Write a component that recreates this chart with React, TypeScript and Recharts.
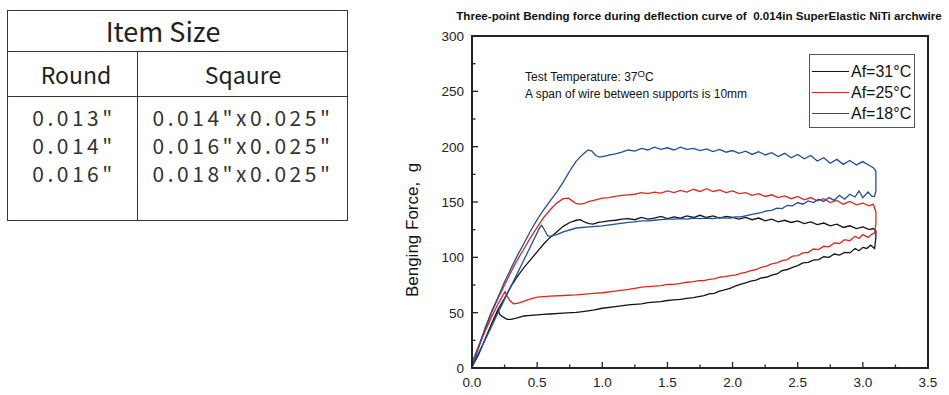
import React from 'react';
import { LineChart, Line, XAxis, YAxis, ReferenceArea, Legend } from 'recharts';

// ---- data (deflection mm, force g) ----
const xTicks = [0, 0.25, 0.5, 0.75, 1, 1.25, 1.5, 1.75, 2, 2.25, 2.5, 2.75, 3, 3.25, 3.5];
const yTicks = [0, 25, 50, 75, 100, 125, 150, 175, 200, 225, 250, 275, 300];

const seriesNames = ['Af=31°C', 'Af=25°C', 'Af=18°C'];
const seriesColors = ['#141414', '#e2261c', '#1f4e9e'];

const af31: [number, number][] = [
  [0, 1], [0.05, 12], [0.1, 26], [0.15, 40], [0.2, 53], [0.25, 63], [0.3, 74], [0.35, 83], [0.4, 91], [0.45, 98],
  [0.5, 105], [0.55, 112], [0.6, 118], [0.65, 123], [0.7, 128], [0.75, 131.5], [0.8, 133.5], [0.83, 134], [0.87, 131.5],
  [0.9, 130.5], [0.93, 130], [0.97, 131.5], [1.0, 132], [1.05, 133], [1.1, 133.5], [1.15, 134.5], [1.2, 135],
  [1.25, 134], [1.3, 136], [1.35, 134.5], [1.4, 135.5], [1.45, 137], [1.5, 135], [1.55, 136.5], [1.6, 135.5],
  [1.65, 137.5], [1.7, 136], [1.75, 138], [1.8, 136], [1.85, 137.5], [1.9, 135.5], [1.95, 137], [2.0, 136],
  [2.05, 134.5], [2.1, 136], [2.15, 134], [2.2, 135.5], [2.25, 133], [2.3, 134.5], [2.35, 132], [2.4, 133.5],
  [2.45, 131.5], [2.5, 133], [2.55, 130.5], [2.6, 132], [2.65, 129.5], [2.7, 131], [2.75, 128.5], [2.8, 130],
  [2.85, 127], [2.9, 128.5], [2.95, 126], [3.0, 127.5], [3.05, 125], [3.08, 126], [3.1, 124],
  [3.1, 118], [3.09, 108], [3.06, 111], [3.03, 108], [3.0, 109], [2.97, 106], [2.94, 108], [2.9, 104], [2.86, 104.5],
  [2.82, 102], [2.78, 103], [2.74, 100], [2.7, 100.5], [2.66, 98], [2.62, 97.5], [2.58, 95.5], [2.54, 95], [2.5, 92.5],
  [2.46, 91], [2.42, 89], [2.38, 88], [2.34, 85], [2.3, 84], [2.26, 82], [2.22, 81.5], [2.18, 79.5], [2.14, 78.5],
  [2.1, 77], [2.06, 75.5], [2.02, 74], [1.98, 72], [1.94, 70.5], [1.9, 69.5], [1.86, 67.5], [1.82, 67], [1.78, 65.5],
  [1.74, 64.5], [1.7, 63.5], [1.65, 63], [1.6, 62], [1.55, 61.5], [1.5, 61], [1.45, 60], [1.4, 59.5], [1.35, 59],
  [1.3, 58], [1.25, 57.5], [1.2, 57], [1.1, 55.5], [1.0, 54], [0.93, 52.3], [0.85, 51], [0.8, 50.3], [0.7, 49.5],
  [0.6, 48.8], [0.55, 48.4], [0.45, 47.5], [0.4, 47], [0.34, 45], [0.3, 44], [0.27, 44], [0.24, 46], [0.215, 48],
  [0.2, 52], [0.15, 40], [0.1, 26], [0.05, 12], [0, 1],
];

const af25: [number, number][] = [
  [0, 5], [0.05, 20], [0.1, 35], [0.15, 50], [0.2, 63], [0.25, 75], [0.3, 87], [0.35, 98], [0.4, 108], [0.45, 118],
  [0.5, 127], [0.55, 136], [0.6, 143], [0.65, 149], [0.7, 153], [0.74, 153.5], [0.77, 151], [0.8, 148.5], [0.83, 148],
  [0.87, 149], [0.9, 150.5], [0.95, 152], [1.0, 153.5], [1.05, 154], [1.1, 155], [1.15, 156], [1.2, 156.5],
  [1.25, 157], [1.3, 158.5], [1.35, 157.5], [1.4, 159], [1.45, 158], [1.5, 160], [1.55, 158.5], [1.6, 160.5],
  [1.65, 159], [1.7, 161.5], [1.75, 159.5], [1.8, 162], [1.85, 159.5], [1.9, 161], [1.95, 158.5], [2.0, 160],
  [2.05, 157.5], [2.1, 158.5], [2.15, 156], [2.2, 157.5], [2.25, 155], [2.3, 156.5], [2.35, 154], [2.4, 155.5],
  [2.45, 153], [2.5, 155], [2.55, 152], [2.6, 154], [2.65, 151], [2.7, 153], [2.75, 149.5], [2.8, 151.5], [2.85, 148],
  [2.9, 150.5], [2.95, 147.5], [3.0, 149], [3.05, 146.5], [3.08, 148], [3.1, 141],
  [3.1, 130], [3.09, 122], [3.07, 121], [3.04, 118], [3.0, 120.5], [2.97, 117], [2.94, 119], [2.9, 115], [2.86, 116],
  [2.82, 112.5], [2.78, 113], [2.74, 109.5], [2.7, 110], [2.66, 107], [2.62, 107.5], [2.58, 104.5], [2.54, 104],
  [2.5, 101.5], [2.46, 101], [2.42, 98], [2.38, 97], [2.34, 95], [2.3, 94], [2.26, 92], [2.22, 91], [2.18, 89],
  [2.14, 88], [2.1, 86.5], [2.06, 85.5], [2.02, 84], [1.98, 83.5], [1.94, 82.5], [1.9, 82], [1.86, 80.5], [1.82, 80],
  [1.78, 79], [1.74, 79], [1.7, 78], [1.65, 77.5], [1.6, 76.5], [1.55, 75.5], [1.5, 75.5], [1.45, 74.5], [1.4, 74],
  [1.35, 73.5], [1.3, 73], [1.25, 72], [1.2, 71], [1.1, 69.5], [1.0, 68], [0.93, 67.5], [0.8, 66], [0.7, 65.5],
  [0.6, 65], [0.5, 64], [0.45, 62.5], [0.4, 60.5], [0.35, 58.5], [0.32, 58], [0.29, 61], [0.27, 65], [0.253, 69],
  [0.2, 58], [0.15, 46], [0.1, 33], [0.05, 19], [0, 5],
];

const af18: [number, number][] = [
  [0, 2], [0.05, 18], [0.1, 36], [0.15, 51], [0.2, 64], [0.25, 78], [0.3, 90], [0.35, 102], [0.4, 113], [0.45, 124],
  [0.5, 134], [0.55, 143], [0.6, 151], [0.65, 159], [0.7, 168], [0.75, 178], [0.8, 187], [0.85, 193], [0.89, 197],
  [0.92, 196], [0.95, 192], [0.98, 190.5], [1.02, 191.5], [1.06, 192.5], [1.1, 193.5], [1.15, 195], [1.2, 197],
  [1.25, 196], [1.3, 198.5], [1.35, 197], [1.4, 199.5], [1.45, 197.5], [1.5, 199], [1.55, 197], [1.6, 199.5],
  [1.65, 197.5], [1.7, 198.5], [1.75, 196.5], [1.8, 198], [1.85, 195.5], [1.9, 197.5], [1.95, 195], [2.0, 196.5],
  [2.05, 194], [2.1, 196], [2.15, 193], [2.2, 195.5], [2.25, 192.5], [2.3, 194.5], [2.35, 191], [2.4, 194],
  [2.45, 190], [2.5, 193], [2.55, 189], [2.6, 192], [2.65, 187], [2.7, 190], [2.75, 185], [2.8, 188.5], [2.85, 184],
  [2.9, 187.5], [2.95, 183.5], [3.0, 186.5], [3.05, 183], [3.08, 181], [3.1, 178],
  [3.1, 160], [3.09, 155], [3.07, 155], [3.04, 159], [3.0, 154], [2.97, 160], [2.94, 154.5], [2.9, 157], [2.86, 152.5],
  [2.82, 156], [2.78, 151.5], [2.74, 154], [2.7, 150.5], [2.66, 152.5], [2.62, 149.5], [2.58, 151], [2.54, 148],
  [2.5, 149.5], [2.46, 146.5], [2.42, 147], [2.38, 144], [2.34, 144.5], [2.3, 142.5], [2.26, 142], [2.22, 140.5],
  [2.18, 139.5], [2.14, 138.5], [2.1, 137.5], [2.06, 136.5], [2.02, 136.5], [1.98, 135.5], [1.94, 135.5], [1.9, 136],
  [1.85, 135], [1.8, 135.5], [1.75, 135], [1.7, 135.5], [1.65, 134.5], [1.6, 135], [1.55, 134.5], [1.5, 134.5],
  [1.45, 134], [1.4, 133.5], [1.35, 133], [1.3, 133], [1.25, 132], [1.2, 131.5], [1.1, 130], [1.0, 128.5],
  [0.9, 127.5], [0.8, 126.5], [0.7, 123], [0.65, 120.5], [0.6, 119], [0.58, 119.5], [0.56, 124], [0.535, 129],
  [0.52, 127], [0.45, 110], [0.4, 98], [0.3, 74], [0.2, 50], [0.1, 25], [0, 2],
];

const tableRound = ['0.013"', '0.014"', '0.016"'];
const tableSquare = ['0.014"x0.025"', '0.016"x0.025"', '0.018"x0.025"'];

const toPts = (arr: [number, number][]) => arr.map(([x, y]) => ({ x, y }));
const allSeries = [af31, af25, af18].map(toPts);

const AX = '#222';
const FONT = 'Arial, "Liberation Sans", Helvetica, sans-serif';

const XTick = (props: any) => {
  const { x, y, payload } = props;
  const v = payload.value as number;
  const major = Math.abs(v * 2 - Math.round(v * 2)) < 1e-6;
  return (
    <g>
      <line x1={x} x2={x} y1={y} y2={y - (major ? 6 : 3.5)} stroke={AX} strokeWidth={1.3} />
      {major && (
        <text x={x} y={y + 19} textAnchor="middle" fontSize={13.5} fill={AX} fontFamily={FONT}>
          {v.toFixed(1)}
        </text>
      )}
    </g>
  );
};

const YTick = (props: any) => {
  const { x, y, payload } = props;
  const v = payload.value as number;
  const major = v % 50 === 0;
  return (
    <g>
      <line x1={x} x2={x + (major ? 6 : 3.5)} y1={y} y2={y} stroke={AX} strokeWidth={1.3} />
      {major && (
        <text x={x - 8} y={y + 5} textAnchor="end" fontSize={13.5} fill={AX} fontFamily={FONT}>
          {v}
        </text>
      )}
    </g>
  );
};

const renderLegend = () => (
  <div
    style={{
      width: 106,
      height: 74,
      boxSizing: 'border-box',
      border: '1px solid #555',
      background: '#fff',
      fontFamily: FONT,
      paddingTop: 6,
    }}
  >
    {seriesNames.map((n, i) => (
      <div key={n} style={{ display: 'flex', alignItems: 'center', height: 21 }}>
        <div style={{ width: 37, height: 0, borderTop: `1.6px solid ${seriesColors[i]}`, marginLeft: 2, marginRight: 2 }} />
        <span style={{ fontSize: 16, color: '#111', whiteSpace: 'nowrap' }}>{n}</span>
      </div>
    ))}
  </div>
);

const cell = (style: React.CSSProperties): React.CSSProperties => ({ position: 'absolute', ...style });
const LINE = '#3a332e';
const CJK = '"Noto Sans CJK SC", "Noto Sans", sans-serif';

export default function App() {
  return (
    <div style={{ position: 'absolute', left: 0, top: 0, width: 949, height: 395, background: '#fff' }}>
      {/* table */}
      <div style={cell({ left: 7, top: 10, width: 341, height: 211, border: `1.5px solid ${LINE}`, boxSizing: 'border-box' })} />
      <div style={cell({ left: 7, top: 51, width: 341, height: 0, borderTop: `1.5px solid ${LINE}` })} />
      <div style={cell({ left: 7, top: 96, width: 341, height: 0, borderTop: `1.5px solid ${LINE}` })} />
      <div style={cell({ left: 137, top: 51, width: 0, height: 170, borderLeft: `1.5px solid ${LINE}` })} />
      <div style={cell({ left: 7, top: 10, width: 312, height: 42, lineHeight: '42px', textAlign: 'center', fontFamily: CJK, fontSize: 27, color: '#222' })}>Item Size</div>
      <div style={cell({ left: 8, top: 52, width: 136, height: 45, lineHeight: '45px', textAlign: 'center', fontFamily: CJK, fontSize: 23, color: '#222' })}>Round</div>
      <div style={cell({ left: 138, top: 52, width: 210, height: 45, lineHeight: '45px', textAlign: 'center', fontFamily: CJK, fontSize: 23, color: '#222' })}>Sqaure</div>
      <div style={cell({ left: 8, top: 103, width: 132, textAlign: 'center', fontFamily: CJK, fontSize: 21, lineHeight: '28px', letterSpacing: 3.5, color: '#333' })}>
        {tableRound.map((t) => (<div key={t}>{t}</div>))}
      </div>
      <div style={cell({ left: 140, top: 103, width: 206, textAlign: 'center', fontFamily: CJK, fontSize: 21, lineHeight: '28px', letterSpacing: 3.5, color: '#333' })}>
        {tableSquare.map((t) => (<div key={t}>{t}</div>))}
      </div>

      {/* chart */}
      <div style={cell({ left: 0, top: 0 })}>
        <LineChart width={949} height={395} margin={{ top: 36, right: 21, bottom: 0, left: 412 }}>
          <XAxis
            type="number"
            dataKey="x"
            domain={[0, 3.5]}
            ticks={xTicks}
            interval={0}
            allowDataOverflow
            tick={<XTick />}
            tickLine={false}
            tickSize={0}
            tickMargin={0}
            height={27}
            axisLine={{ stroke: AX, strokeWidth: 2 }}
          />
          <YAxis
            type="number"
            dataKey="y"
            domain={[0, 300]}
            ticks={yTicks}
            interval={0}
            allowDataOverflow
            tick={<YTick />}
            tickLine={false}
            tickSize={0}
            tickMargin={0}
            width={60}
            axisLine={{ stroke: AX, strokeWidth: 2 }}
          />
          <ReferenceArea x1={0} x2={3.5} y1={0} y2={300} fill="none" stroke={AX} strokeWidth={2} ifOverflow="visible" />
          {allSeries.map((d, i) => (
            <Line
              key={seriesNames[i]}
              data={d}
              dataKey="y"
              name={seriesNames[i]}
              type="linear"
              stroke={seriesColors[i]}
              strokeWidth={1.3}
              dot={false}
              activeDot={false}
              isAnimationActive={false}
            />
          ))}
          <Legend
            layout="vertical"
            align="center"
            verticalAlign="middle"
            content={renderLegend}
            wrapperStyle={{ position: 'absolute', left: 809, top: 54, width: 106, height: 74 }}
          />
        </LineChart>
      </div>

      {/* title and annotations */}
      <div style={cell({ left: 421, top: 9, width: 556, textAlign: 'center', fontFamily: FONT, fontWeight: 'bold', fontSize: 11.6, color: '#111', whiteSpace: 'pre' })}>
        {'Three-point Bending force during deflection curve of  0.014in SuperElastic NiTi archwire'}
      </div>
      <div style={cell({ left: 525, top: 69, fontFamily: FONT, fontSize: 12, color: '#111', lineHeight: '16px', whiteSpace: 'nowrap' })}>
        <div>
          Test Temperature: 37<span style={{ fontSize: 9.5, position: 'relative', top: -4 }}>O</span>C
        </div>
        <div>A span of wire between supports is 10mm</div>
      </div>
      <div
        style={cell({
          left: 413,
          top: 230,
          fontFamily: FONT,
          fontSize: 17,
          color: '#111',
          whiteSpace: 'pre',
          transform: 'translate(-50%, -50%) rotate(-90deg)',
        })}
      >
        {'Benging Force,  g'}
      </div>
    </div>
  );
}
